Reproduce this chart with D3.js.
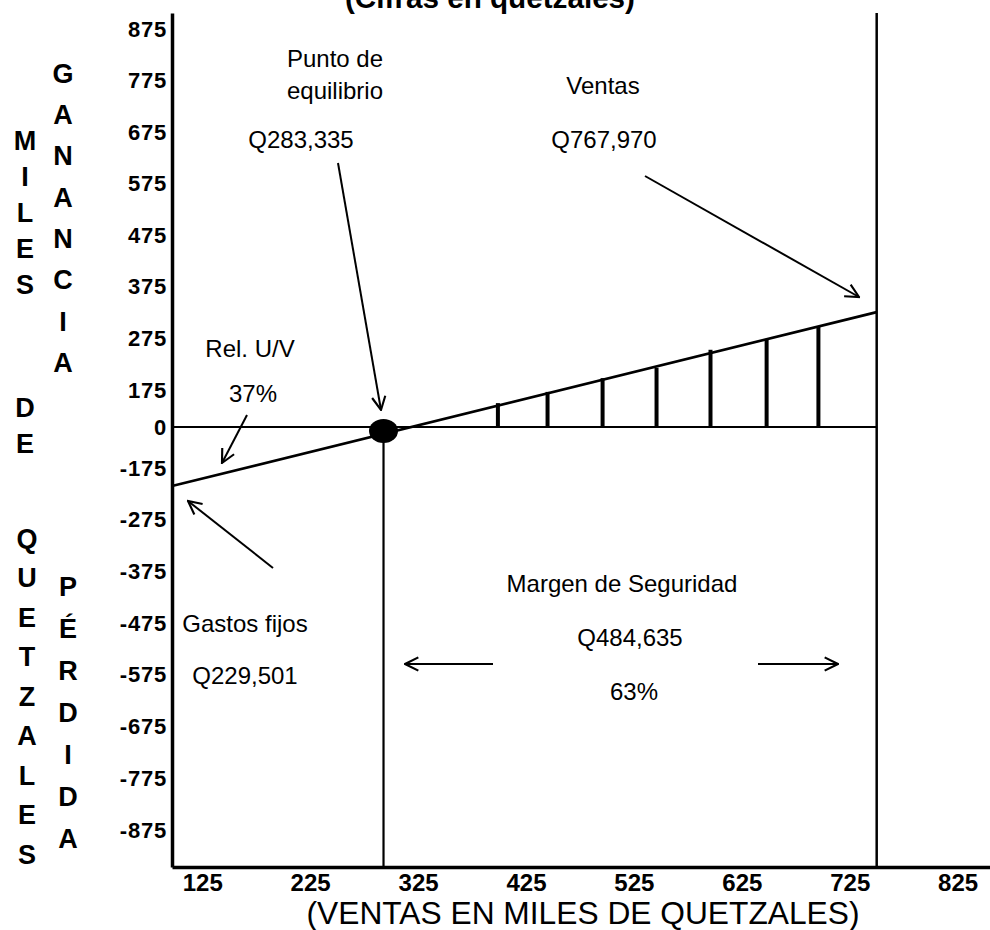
<!DOCTYPE html>
<html>
<head>
<meta charset="utf-8">
<script src="https://cdn.jsdelivr.net/npm/d3@7"></script>
<style>
  body { margin: 0; background: #fff; }
  svg { display: block; font-family: "Liberation Sans", Arial, sans-serif; }
</style>
</head>
<body>
<div id="chart"></div>
<script>
// ticks (thousands of quetzales)
var xTicks = [125, 225, 325, 425, 525, 625, 725, 825];
var yTicks = [875, 775, 675, 575, 475, 375, 275, 175, 0, -175, -275, -375, -475, -575, -675, -775, -875];

// profit line (values as read on the chart's own axes)
var profitX = [97, 750];
var profitY = [-210, 326];

// break-even point and sales level
var breakEvenX = [293];
var breakEvenY = [-17];
var salesX = [750];

// hatched profit area
var hatchX = [399, 445, 496, 546, 596, 648, 696];
var hatchY = [113, 166, 198, 218, 253, 274, 298];

// axis title letters (stacked)
var titleCols = ["MILES", "DE", "QUETZALES", "GANANCIA", "PÉRDIDA"];

var W = 990, H = 930;
var svg = d3.select('#chart').append('svg')
    .attr('width', W).attr('height', H);

// the y axis is not evenly spaced around zero, so piecewise scale
var y = d3.scaleLinear()
    .domain([-947, -875, -175, 0, 175, 875, 906])
    .range([867, 830, 468, 427, 390, 29, 13]);
var x = d3.scaleLinear()
    .domain([97, 855])
    .range([172, 990]);

var yMin = y.domain()[0], yMax = y.domain()[y.domain().length - 1];

// arrow marker
svg.append('defs').append('marker')
    .attr('id', 'arr')
    .attr('viewBox', '0 0 12 12')
    .attr('refX', 11).attr('refY', 6)
    .attr('markerWidth', 16).attr('markerHeight', 16)
    .attr('markerUnits', 'userSpaceOnUse')
    .attr('orient', 'auto')
  .append('path')
    .attr('d', 'M1,1 L11,6 L1,11')
    .attr('fill', 'none').attr('stroke', '#000').attr('stroke-width', 1.6);

// title, mostly off the top of the page (as in the scan)
svg.append('text')
    .attr('x', 490).attr('y', 8)
    .attr('text-anchor', 'middle')
    .attr('font-size', 30).attr('font-weight', 'bold')
    .attr('textLength', 290).attr('lengthAdjust', 'spacingAndGlyphs')
    .text('(Cifras en quetzales)');

var fmt = function(d){ return String(d); };  // plain hyphen for negatives

// y axis
var yAxis = svg.append('g')
    .attr('transform', 'translate(' + x(x.domain()[0]) + ',0)')
    .call(d3.axisLeft(y).tickValues(yTicks).tickSize(0).tickPadding(5).tickFormat(fmt));
yAxis.select('.domain').attr('stroke-width', 3.5);
yAxis.selectAll('text')
    .attr('font-size', 22).attr('font-weight', 'bold')
    .attr('letter-spacing', 0.8)
    .attr('font-family', '"Liberation Sans", Arial, sans-serif')
    .attr('fill', '#000');

// x axis
var xAxis = svg.append('g')
    .attr('transform', 'translate(0,' + y(yMin) + ')')
    .call(d3.axisBottom(x).tickValues(xTicks).tickSize(0).tickPadding(7).tickFormat(fmt));
xAxis.select('.domain').attr('stroke-width', 3.5);
xAxis.selectAll('text')
    .attr('font-size', 24).attr('font-weight', 'bold')
    .attr('font-family', '"Liberation Sans", Arial, sans-serif')
    .attr('fill', '#000');

svg.append('text')
    .attr('x', 583).attr('y', 924)
    .attr('text-anchor', 'middle')
    .attr('font-size', 31)
    .attr('textLength', 553).attr('lengthAdjust', 'spacingAndGlyphs')
    .text('(VENTAS EN MILES DE QUETZALES)');

// stacked letters of the y titles
var colX = [25, 25, 27, 63, 68];
var colStart = [140, 407, 538, 73, 586];
var colStep = [36, 36, 39.5, 41.3, 42];
titleCols.forEach(function(word, i){
    svg.append('g').selectAll('text')
        .data(word.split(''))
        .enter().append('text')
        .attr('x', colX[i])
        .attr('y', function(d, j){ return colStart[i] + j * colStep[i]; })
        .attr('dy', '0.36em')
        .attr('text-anchor', 'middle')
        .attr('font-size', 27).attr('font-weight', 'bold')
        .text(function(d){ return d; });
});

// zero line up to the sales line
svg.append('line')
    .attr('x1', x(x.domain()[0])).attr('x2', x(salesX[0]))
    .attr('y1', y(0)).attr('y2', y(0))
    .attr('stroke', '#000').attr('stroke-width', 2);

// sales vertical
svg.append('line')
    .attr('x1', x(salesX[0])).attr('x2', x(salesX[0]))
    .attr('y1', y(yMax)).attr('y2', y(yMin))
    .attr('stroke', '#000').attr('stroke-width', 2.5);

// break-even vertical
svg.append('line')
    .attr('x1', x(breakEvenX[0])).attr('x2', x(breakEvenX[0]))
    .attr('y1', y(breakEvenY[0])).attr('y2', y(yMin))
    .attr('stroke', '#000').attr('stroke-width', 2.2);

// hatch bars
svg.append('g').selectAll('line')
    .data(hatchX)
    .enter().append('line')
    .attr('x1', function(d){ return x(d); })
    .attr('x2', function(d){ return x(d); })
    .attr('y1', y(0) + 1)
    .attr('y2', function(d, i){ return y(hatchY[i]); })
    .attr('stroke', '#000').attr('stroke-width', 4);

// profit line
var pts = profitX.map(function(d, i){ return [d, profitY[i]]; });
svg.append('path')
    .datum(pts)
    .attr('d', d3.line().x(function(d){ return x(d[0]); }).y(function(d){ return y(d[1]); }))
    .attr('fill', 'none').attr('stroke', '#000').attr('stroke-width', 2.6);

// break-even dot
svg.append('ellipse')
    .attr('cx', x(breakEvenX[0])).attr('cy', y(breakEvenY[0]))
    .attr('rx', 14.5).attr('ry', 12)
    .attr('fill', '#000');

// annotations
var notes = [
    ['Punto de', 335, 67], ['equilibrio', 335, 99], ['Q283,335', 301, 148],
    ['Ventas', 603, 94], ['Q767,970', 604, 148],
    ['Rel. U/V', 250, 357], ['37%', 253, 402],
    ['Gastos fijos', 245, 632], ['Q229,501', 245, 684],
    ['Margen de Seguridad', 622, 592], ['Q484,635', 630, 646], ['63%', 634, 700]
];
svg.append('g').selectAll('text')
    .data(notes)
    .enter().append('text')
    .attr('x', function(d){ return d[1]; })
    .attr('y', function(d){ return d[2]; })
    .attr('text-anchor', 'middle')
    .attr('font-size', 24)
    .text(function(d){ return d[0]; });

var arrows = [
    [338, 163, 381, 410],
    [645, 176, 859, 297],
    [247, 415, 222, 463],
    [273, 568, 188, 501],
    [493, 664, 405, 664],
    [758, 664, 838, 664]
];
svg.append('g').selectAll('line')
    .data(arrows)
    .enter().append('line')
    .attr('x1', function(d){ return d[0]; })
    .attr('y1', function(d){ return d[1]; })
    .attr('x2', function(d){ return d[2]; })
    .attr('y2', function(d){ return d[3]; })
    .attr('stroke', '#000').attr('stroke-width', 2)
    .attr('marker-end', 'url(#arr)');
</script>
</body>
</html>
